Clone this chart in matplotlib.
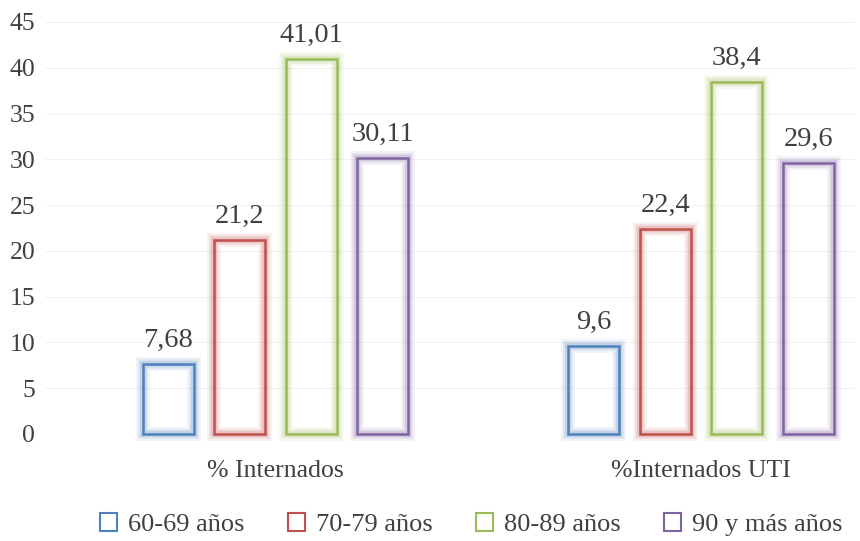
import matplotlib.pyplot as plt
import numpy as np
from matplotlib.patches import Patch

# datos
categorias = ['% Internados', '%Internados UTI']
grupos = ['60-69 años', '70-79 años', '80-89 años', '90 y más años']
valores = [[7.68, 9.6],
           [21.2, 22.4],
           [41.01, 38.4],
           [30.11, 29.6]]
etiquetas = [['7,68', '9,6'],
             ['21,2', '22,4'],
             ['41,01', '38,4'],
             ['30,11', '29,6']]
colores = ['#4f81bd', '#c0504d', '#9bbb59', '#8064a2']

plt.rcParams['font.family'] = ['Liberation Serif', 'DejaVu Serif']
txt = '#404040'

fig = plt.figure(figsize=(8.6, 5.41), dpi=100)
ax = fig.add_axes([45/860, 107/541, 810/860, (434-22)/541])

x = np.arange(len(categorias))
paso = 0.168; ancho = 0.12
for i, (g, c) in enumerate(zip(grupos, colores)):
    pos = x + (i - 1.5) * paso
    # brillo alrededor de la barra
    for lw, a in [(10, 0.08), (7, 0.12), (4.5, 0.18)]:
        ax.bar(pos, valores[i], ancho, facecolor='none', edgecolor=c,
               linewidth=lw, alpha=a, zorder=2, clip_on=False)
    ax.bar(pos, valores[i], ancho, facecolor='none', edgecolor=c,
           linewidth=1.8, zorder=3, clip_on=False)
    for px, v, t in zip(pos, valores[i], etiquetas[i]):
        ax.annotate(t, (px, v), xytext=(0, 8), textcoords='offset points',
                    ha='center', va='bottom', fontsize=20.5, color=txt)

ax.set_ylim(0, 45)
ax.set_yticks(range(0, 46, 5))
ax.set_xlim((45-275.5)/425.5, (855-275.5)/425.5)
ax.set_xticks(x)
ax.set_xticklabels(categorias)
ax.tick_params(axis='both', length=0, labelsize=18.5, colors=txt)
ax.tick_params(axis='y', pad=7)
ax.tick_params(axis='x', pad=19)
for s in ax.spines.values():
    s.set_visible(False)
ax.grid(axis='y', color='#f2f2f2', linewidth=0.8, zorder=0)
ax.set_axisbelow(True)

handles = [Patch(facecolor='white', edgecolor=c, linewidth=1.5) for c in colores]
fig.legend(handles, grupos, loc='lower center', bbox_to_anchor=(0.548, -0.035),
           ncol=4, frameon=False, fontsize=19, labelcolor=txt,
           handlelength=0.65, handleheight=0.65, handletextpad=0.4,
           columnspacing=1.65)

plt.savefig('out.png', dpi=100)
